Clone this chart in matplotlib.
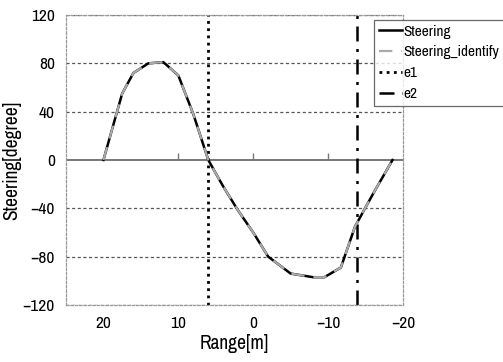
import matplotlib.pyplot as plt
from matplotlib import font_manager

# data
range_m = [20, 19, 17.5, 16, 14, 12, 10, 8, 6, 4, 2, 0, -2, -5, -8, -9.5, -11.7, -13.6, -16, -18.6]
steering = [0, 22, 55, 72, 80, 81, 70, 38, 0, -22, -42, -60, -80, -94, -97, -97, -89, -55, -28, 0]
steering_identify = steering
e1_pos = 6
e2_pos = -13.8
xticks = [20, 10, 0, -10, -20]
yticks = [-120, -80, -40, 0, 40, 80, 120]

# narrow gothic-like look of the original
names = {f.name for f in font_manager.fontManager.ttflist}
font = 'Archivo Narrow' if 'Archivo Narrow' in names else 'DejaVu Sans'
plt.rcParams['font.family'] = [font, 'DejaVu Sans']
plt.rcParams['font.stretch'] = 'condensed'

fig = plt.figure(figsize=(5.03, 3.62), dpi=100)
ax = fig.add_axes([66 / 503, 1 - 305 / 362, 337 / 503, 290 / 362])

ax.set_xlim(25, -20)
ax.set_ylim(-120, 120)

for y in yticks:
    if y != 0:
        ax.axhline(y, color='#555555', lw=0.9, ls=(0, (2.5, 2)), zorder=1)
ax.axhline(0, color='#777777', lw=1.4, zorder=1)
ax.plot(xticks[1:-1], [0] * 3, ls='none', marker=2, ms=5, mew=1.0, color='#777777')

ax.plot(range_m, steering, color='black', lw=1.8, label='Steering', zorder=3)
ax.plot(range_m, steering_identify, color='#aaaaaa', lw=1.6, ls=(0, (6, 4)),
        label='Steering_identify', zorder=4)
ax.axvline(e1_pos, color='black', lw=2.0, ls=(0, (1, 1.6)), label='e1', zorder=2)
ax.axvline(e2_pos, color='black', lw=1.8, ls=(0, (6, 3, 1.2, 3)), label='e2', zorder=2)

for s in ax.spines.values():
    s.set_color('#999999')
    s.set_linestyle((0, (2, 1.5)))
    s.set_linewidth(0.9)

ax.set_xticks(xticks)
ax.set_yticks(yticks)
ax.tick_params(length=0, labelsize=12.5, pad=8)
ax.set_xlabel('Range[m]', fontsize=14, labelpad=2)
ax.set_ylabel('Steering[degree]', fontsize=14, labelpad=1)

leg = ax.legend(loc='upper left', bbox_to_anchor=(374 / 503, 1 - 20 / 362),
                bbox_transform=fig.transFigure, fontsize=11, frameon=True,
                fancybox=False, handlelength=1.5, handletextpad=0.15,
                borderpad=0.3, labelspacing=0.45, borderaxespad=0)
leg.get_frame().set_edgecolor('#444444')
leg.get_frame().set_linewidth(0.9)

fig.savefig('out.png', dpi=100)
